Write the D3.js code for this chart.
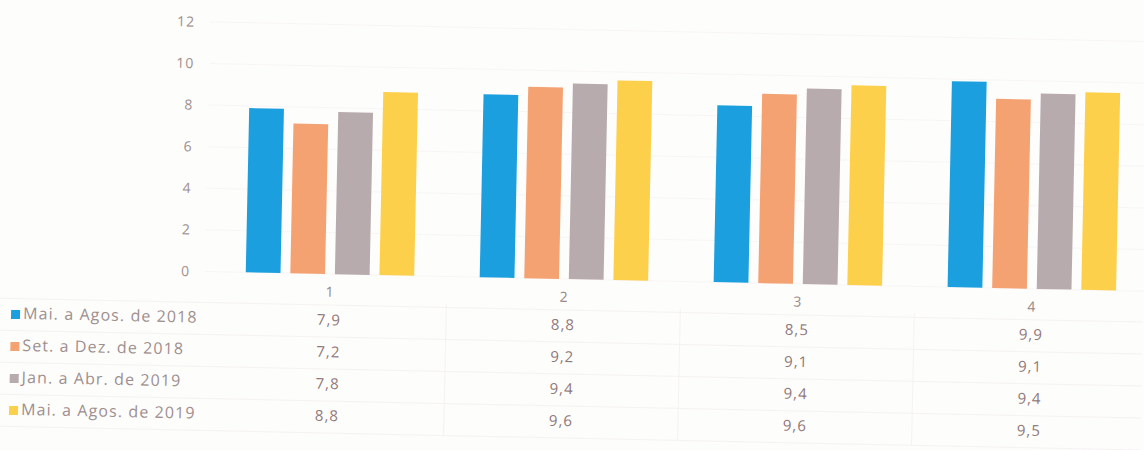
<!DOCTYPE html>
<html>
<head>
<meta charset="utf-8">
<script src="https://cdn.jsdelivr.net/npm/d3@7/dist/d3.min.js"></script>
<style>
  html, body { margin: 0; padding: 0; background: #fdfdfc; }
  svg { display: block; }
  text { font-family: "Open Sans", "DejaVu Sans", sans-serif; }
</style>
</head>
<body>
<svg id="chart" width="1144" height="450"></svg>
<script>
// Periods (series) and survey items (categories)
const categories = ["1", "2", "3", "4"];
const seriesNames = [
  "Mai. a Agos. de 2018",
  "Set. a Dez. de 2018",
  "Jan. a Abr. de 2019",
  "Mai. a Agos. de 2019"
];
const mai2018 = [7.9, 8.8, 8.5, 9.9];
const setDez2018 = [7.2, 9.2, 9.1, 9.1];
const janAbr2019 = [7.8, 9.4, 9.4, 9.4];
const mai2019 = [8.8, 9.6, 9.6, 9.5];
const yTicks = [0, 2, 4, 6, 8, 10, 12];

const seriesValues = [mai2018, setDez2018, janAbr2019, mai2019];
const colors = ["#1c9fdf", "#f5a273", "#b8abad", "#fdd04b"];

const ptBR = d3.formatLocale({ decimal: ",", thousands: ".", grouping: [3], currency: ["R$", ""] });
const fmt = ptBR.format(".1f");
const fmtTick = ptBR.format("d");

const svg = d3.select("#chart");
// the whole sheet sits at a slight tilt
const g = svg.append("g").attr("transform", "rotate(1.2,183,271)");

const y = d3.scaleLinear().domain([0, 12]).range([271, 21.4]);
const x0 = d3.scaleBand().domain(categories).range([213, 1149]).paddingInner(0.28).paddingOuter(0.14);
const x1 = d3.scaleBand().domain(d3.range(seriesNames.length)).range([0, x0.bandwidth()]).paddingInner(0.22);

// faint gridlines
g.append("g").selectAll("line").data(yTicks).join("line")
  .attr("x1", 205).attr("x2", 1144)
  .attr("y1", d => y(d)).attr("y2", d => y(d))
  .attr("stroke", "#f8f5f5").attr("stroke-width", 1);

// y axis labels
const yAxis = d3.axisLeft(y).tickValues(yTicks).tickFormat(fmtTick).tickSize(0).tickPadding(0);
const ya = g.append("g").attr("transform", "translate(190,0)").call(yAxis);
ya.select(".domain").remove();
ya.selectAll("text")
  .attr("font-size", 14).attr("fill", "#a09090").attr("letter-spacing", "1px");

// bars
const groups = g.append("g").selectAll("g").data(categories).join("g")
  .attr("transform", d => `translate(${x0(d)},0)`);
groups.selectAll("rect")
  .data((d, ci) => seriesValues.map((vals, si) => ({ si, v: vals[ci] })))
  .join("rect")
  .attr("x", d => x1(d.si))
  .attr("width", x1.bandwidth())
  .attr("y", d => y(d.v))
  .attr("height", d => y(0) - y(d.v))
  .attr("fill", d => colors[d.si]);

// data table under the plot
const rowY = [318, 350, 382, 414];
const headerY = 290;
const tableLine = "#f5f2f2";

g.append("g").selectAll("line").data(rowY.map(r => r - 16).concat([rowY[3] + 16])).join("line")
  .attr("x1", 0).attr("x2", 1144)
  .attr("y1", d => d).attr("y2", d => d)
  .attr("stroke", tableLine);
g.append("g").selectAll("line").data(categories.slice(1)).join("line")
  .attr("x1", d => x0(d) - x0.step() * x0.paddingInner() / 2)
  .attr("x2", d => x0(d) - x0.step() * x0.paddingInner() / 2)
  .attr("y1", headerY + 8).attr("y2", rowY[3] + 16)
  .attr("stroke", tableLine);

// category header
g.append("g").selectAll("text").data(categories).join("text")
  .attr("x", d => x0(d) + x0.bandwidth() / 2)
  .attr("y", headerY)
  .attr("text-anchor", "middle").attr("dominant-baseline", "middle")
  .attr("font-size", 14).attr("fill", "#988888")
  .text(d => d);

// legend keys and series names
const leg = g.append("g").selectAll("g").data(seriesNames).join("g")
  .attr("transform", (d, i) => `translate(0,${rowY[i]})`);
leg.append("rect")
  .attr("x", 12).attr("y", -4.5).attr("width", 9).attr("height", 9)
  .attr("fill", (d, i) => colors[i]);
leg.append("text")
  .attr("x", 24).attr("y", 0)
  .attr("dominant-baseline", "middle")
  .attr("font-size", 16).attr("fill", "#9d8f8f").attr("letter-spacing", "1.1px")
  .text(d => d);

// values
seriesValues.forEach((vals, si) => {
  g.append("g").selectAll("text").data(categories).join("text")
    .attr("x", d => x0(d) + x0.bandwidth() / 2)
    .attr("y", rowY[si])
    .attr("text-anchor", "middle").attr("dominant-baseline", "middle")
    .attr("font-size", 15).attr("fill", "#907879").attr("letter-spacing", "1px")
    .text((d, ci) => fmt(vals[ci]));
});
</script>
</body>
</html>
